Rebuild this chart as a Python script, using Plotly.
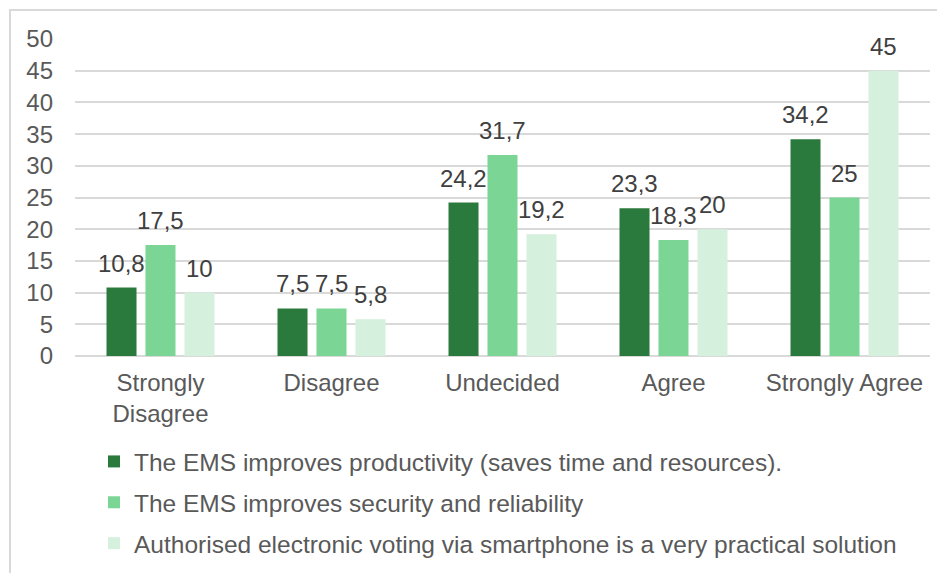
import plotly.graph_objects as go

categories = ["Strongly<br>Disagree", "Disagree", "Undecided", "Agree", "Strongly Agree"]
series_names = [
    "The EMS improves productivity (saves time and resources).",
    "The EMS improves security and reliability",
    "Authorised electronic voting via smartphone is a very practical solution",
]
productivity = [10.8, 7.5, 24.2, 23.3, 34.2]
security = [17.5, 7.5, 31.7, 18.3, 25]
smartphone = [10, 5.8, 19.2, 20, 45]
colors = ["#2a7a3d", "#7bd696", "#d5f0dd"]
y_ticks = [0, 5, 10, 15, 20, 25, 30, 35, 40, 45, 50]


def fmt(v):
    s = ("%g" % v)
    return s.replace(".", ",")


FONT = "Liberation Sans, Arial, sans-serif"
FS = 24
# page body has an 8px margin: figure coords = screen coords - 8
L, T = 67, 31
R = 945 - 922
B = 573 - 348
W, H = 945, 573
BARGAP = 0.316
plot_w = W - L - R
slot = plot_w / len(categories) * (1 - BARGAP) / 3

fig = go.Figure()
annotations = []
all_series = [productivity, security, smartphone]
for i, (name, vals, col) in enumerate(zip(series_names, all_series, colors)):
    fig.add_trace(go.Bar(
        x=categories, y=vals, name=name, legendgroup="g%d" % i,
        marker=dict(color=col, line=dict(width=0)),
        cliponaxis=False,
    ))
    for c, v in zip(categories, vals):
        annotations.append(dict(
            x=c, y=v, xref="x", yref="y", text=fmt(v), showarrow=False,
            xanchor="center", yanchor="bottom", xshift=(i - 1) * slot, yshift=9,
            font=dict(family=FONT, size=FS, color="#404040"),
        ))

fig.update_layout(
    width=W, height=H,
    margin=dict(l=L, r=R, t=T, b=B, autoexpand=False),
    paper_bgcolor="white", plot_bgcolor="white",
    barmode="group", bargap=BARGAP, bargroupgap=0.23,
    font=dict(family=FONT, size=FS, color="#595959"),
    showlegend=True,
    legend=dict(orientation="v", x=(86 - L) / 855, xanchor="left", y=-(431 - 348) / 317, yanchor="top",
                font=dict(family=FONT, size=24.5, color="#595959"),
                tracegroupgap=6, itemsizing="constant", traceorder="grouped"),
    yaxis=dict(range=[0, 50], tickvals=y_ticks, showgrid=True, gridcolor="#d9d9d9",
               gridwidth=1.5, zeroline=True, zerolinecolor="#d9d9d9", zerolinewidth=1.5,
               showline=False, ticks="", ticklabelstandoff=21,
               tickfont=dict(family=FONT, size=FS, color="#595959")),
    xaxis=dict(showgrid=False, showline=False, ticks="", ticklabelstandoff=10,
               tickfont=dict(family=FONT, size=FS, color="#595959")),
    annotations=annotations,
    shapes=[dict(type="rect", xref="paper", yref="paper",
                 x0=(2 - L) / plot_w, x1=1.2, y0=(348 - 2) / 317, y1=-1.5,
                 line=dict(color="#d9d9d9", width=2), layer="below")],
)

fig.write_html("out.html")
